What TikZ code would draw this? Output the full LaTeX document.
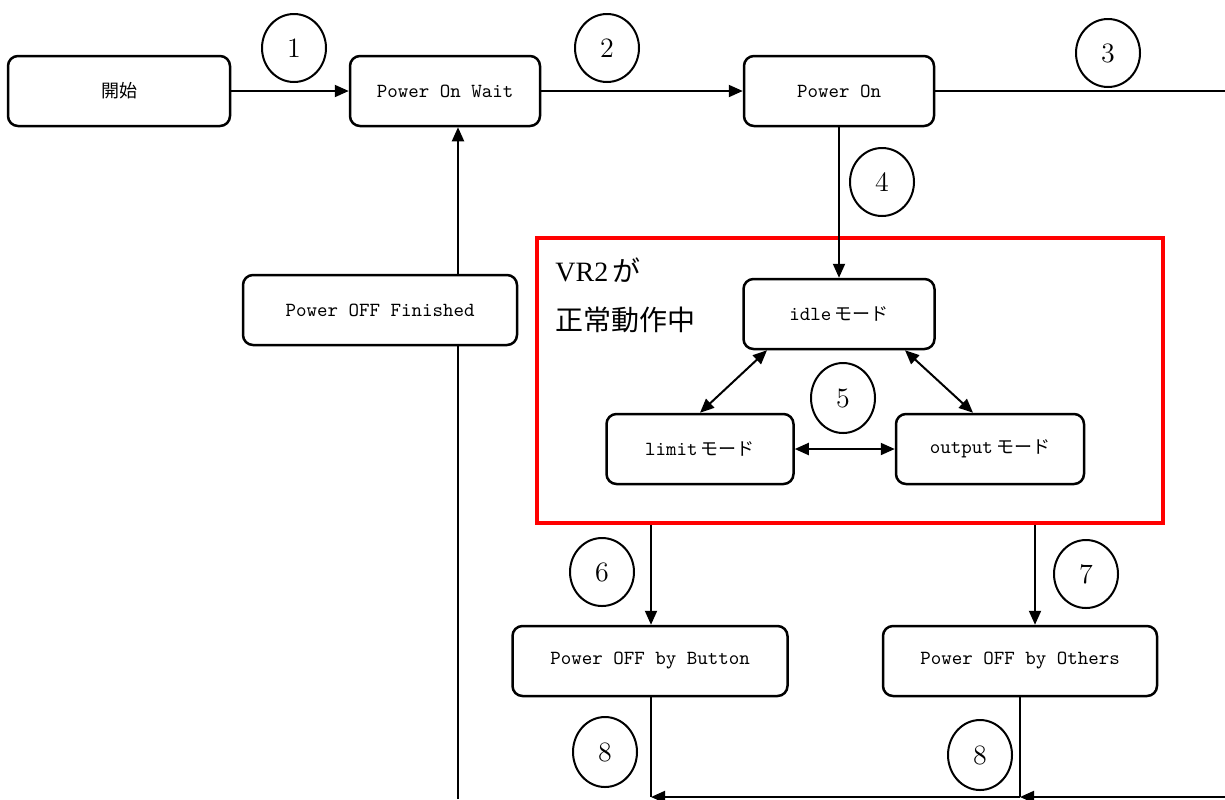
\documentclass[tikz,border=0pt]{standalone}
\usepackage{fontspec}
\usetikzlibrary{arrows.meta,shapes.geometric}
\newfontfamily\jpfont{Noto Sans CJK JP}
\newfontfamily\serifroman{Liberation Serif}
\newcommand{\boxfont}{\fontsize{10pt}{11pt}\selectfont\ttfamily}
\begin{document}
\begin{tikzpicture}[x=0.5pt,y=-0.5pt,
  box/.style={draw, line width=1.25pt, rounded corners=5pt, minimum height=35pt,
    inner sep=0pt, align=center, font=\boxfont},
  num/.style={draw, ellipse, line width=1pt, minimum width=32pt, minimum height=34pt,
    inner sep=0pt, font=\fontsize{14pt}{14pt}\selectfont},
  arr/.style={line width=1pt, -{Triangle[length=7pt,width=6pt]}},
  biarr/.style={line width=1pt, {Triangle[length=7pt,width=6pt]}-{Triangle[length=7pt,width=6pt]}},
  link/.style={line width=1pt}]
\useasboundingbox (0,0) rectangle (1225,799);

% main states
\node[box, minimum width=111pt] (start) at (119,91) {{\jpfont\fontsize{9pt}{10pt}\selectfont 開始}};
\node[box, minimum width=95pt] (wait) at (445,91) {Power On Wait};
\node[box, minimum width=95pt] (on) at (839,91) {Power On};
\node[box, minimum width=137pt] (fin) at (380,310) {Power OFF Finished};
\node[box, minimum width=137.5pt] (btn) at (650,661) {Power OFF by Button};
\node[box, minimum width=137pt] (oth) at (1020,661) {Power OFF by Others};

% normal operation group
\node[draw=red, line width=2pt, minimum width=313pt, minimum height=142.5pt, inner sep=0pt]
  (vr) at (850,380.5) {};
\node[anchor=base west, inner sep=0pt, font=\fontsize{14pt}{14pt}\selectfont]
  (vrlabel) at (555,281) {{\serifroman VR2}\,{\jpfont が}};
\node[anchor=west, inner sep=0pt, font=\fontsize{14pt}{14pt}\selectfont\jpfont]
  (vrlabel2) at (555,320) {正常動作中};
\node[box, minimum width=95.5pt] (idle) at (839,314) {idle\,{\jpfont\fontsize{9pt}{10pt}\selectfont モード}};
\node[box, minimum width=93.5pt] (limit) at (700,449) {limit\,{\jpfont\fontsize{9pt}{10pt}\selectfont モード}};
\node[box, minimum width=94pt] (output) at (990,449) {output\,{\jpfont\fontsize{9pt}{10pt}\selectfont モード}};

% transition numbers
\node[num] (n1) at (294,48) {1};
\node[num] (n2) at (607,48) {2};
\node[num] (n3) at (1108,53) {3};
\node[num] (n4) at (882,182) {4};
\node[num, minimum height=35pt] (n5) at (843,398) {5};
\node[num] (n6) at (602,572) {6};
\node[num] (n7) at (1086,574) {7};
\node[num, minimum height=35pt] (n8a) at (605,752) {8};
\node[num, minimum height=35pt] (n8b) at (980,755) {8};

% free ends at the picture edges
\coordinate (eOn) at (1225,91);
\coordinate (eBot) at (1225,797);
\coordinate (eFin) at (458,799);
\coordinate (jB) at (651,797);
\coordinate (jO) at (1020,797);
\coordinate (x7) at (1035,0);

% transitions
\draw[arr] (start.east) -- (wait.west);
\draw[arr] (wait.east) -- (on.west);
\draw[link] (on.east) -- (eOn);
\draw[arr] (on.south) -- (idle.north);
\draw[biarr] ([xshift=-36pt]idle.south) -- ([xshift=0pt]limit.north);
\draw[biarr] ([xshift=33pt]idle.south) -- ([xshift=-8.5pt]output.north);
\draw[biarr] (limit.east) -- (output.west);
\draw[arr] (vr.south -| jB) -- (btn.north -| jB);
\draw[arr] (vr.south -| x7) -- (oth.north -| x7);
\draw[link] (btn.south -| jB) -- (jB);
\draw[link] (oth.south) -- (jO);
\draw[arr] (eBot) -- (jO);
\draw[arr] (jO) -- (jB);
\draw[link] (eFin) -- (fin.south -| eFin);
\draw[arr] (fin.north -| eFin) -- (wait.south -| eFin);
\end{tikzpicture}
\end{document}
